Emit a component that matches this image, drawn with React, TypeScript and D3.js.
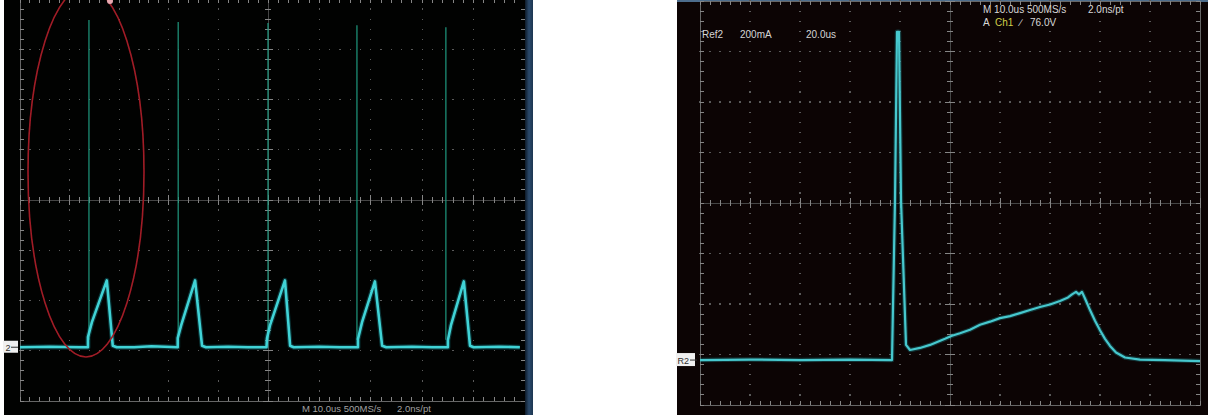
import React from "react";
import * as d3 from "d3";

// ---------- DATA (divisions; y relative to channel ground marker) ----------
// Left screen: current trace, 5 pulses
const leftTrace: [number, number][] = [
  [0, 0], [0.6, 0.01], [1.2, 0], [1.37, 0], [1.37, 0.2], [1.45, 0.5], [1.75, 1.33], [1.87, 0.03], [1.95, 0],
  [2.3, 0.0], [2.65, 0.02], [3.18, 0], [3.18, 0.18], [3.25, 0.44], [3.53, 1.33], [3.67, 0.03], [3.75, 0],
  [4.2, 0.01], [4.6, 0], [4.97, 0], [4.98, 0.18], [5.04, 0.44], [5.33, 1.33], [5.43, 0.03], [5.5, 0],
  [6.0, 0.01], [6.4, 0], [6.75, 0], [6.75, 0.16], [6.83, 0.5], [7.08, 1.31], [7.22, 0.03], [7.3, 0],
  [7.8, 0.01], [8.2, 0], [8.5, 0], [8.5, 0.14], [8.56, 0.44], [8.81, 1.31], [8.93, 0.03], [9.0, 0],
  [9.5, 0.01], [9.9, 0],
];
// Left screen: thin voltage spikes [time, top]
const leftSpikes: [number, number][] = [
  [1.39, 6.51], [3.19, 6.47], [5.0, 6.45], [6.73, 6.41], [8.46, 6.37],
];
// Right screen: single pulse, zoomed
const rightTrace: [number, number][] = [
  [0, 0], [1.0, 0.01], [2.0, 0], [3.0, 0.01], [3.84, 0], [3.9, 3.17], [3.94, 6.5], [3.98, 6.5],
  [4.02, 3.17], [4.12, 0.3], [4.2, 0.2], [4.4, 0.24], [4.6, 0.3], [4.9, 0.42], [5.04, 0.48],
  [5.2, 0.53], [5.4, 0.6], [5.6, 0.7], [5.8, 0.76], [6.0, 0.83], [6.2, 0.87], [6.4, 0.93],
  [6.6, 0.99], [6.8, 1.05], [7.0, 1.1], [7.2, 1.17], [7.36, 1.24], [7.44, 1.3], [7.52, 1.35],
  [7.58, 1.3], [7.64, 1.35], [7.7, 1.22], [7.8, 0.99], [7.9, 0.78], [8.0, 0.59], [8.1, 0.42],
  [8.2, 0.28], [8.32, 0.15], [8.5, 0.05], [8.8, 0.01], [9.3, 0.0], [10.0, -0.02],
];

const leftZeroDiv = 1.07; // ground marker height above bottom (div)
const rightZeroDiv = 0.89;

const leftFooter = "M 10.0us 500MS/s      2.0ns/pt";
const rightHeader1 = "M 10.0us 500MS/s";
const rightHeader2 = "2.0ns/pt";
const refLabels = ["Ref2", "200mA", "20.0us"];
const trigLabels = ["A", "Ch1", "\u2215", "76.0V"];

// ---------- GRATICULE ----------
function Graticule({ x, y }: { x: d3.ScaleLinear<number, number>; y: d3.ScaleLinear<number, number> }) {
  const dots: JSX.Element[] = [];
  const ticks: JSX.Element[] = [];
  const dotC = "#5a5a5a";
  const tickC = "#858585";
  for (let i = 1; i < 10; i++) {
    if (i === 5) continue;
    for (let k = 0; k <= 40; k++) {
      dots.push(<rect key={`v${i}-${k}`} x={x(i) - 0.6} y={y(k * 0.2) - 0.6} width={1.2} height={1.2} fill={dotC} />);
    }
  }
  for (let j = 1; j < 8; j++) {
    if (j === 4) continue;
    for (let k = 0; k <= 50; k++) {
      dots.push(<rect key={`h${j}-${k}`} x={x(k * 0.2) - 0.6} y={y(j) - 0.6} width={1.2} height={1.2} fill={dotC} />);
    }
  }
  for (let k = 0; k <= 40; k++) {
    const L = k % 5 === 0 ? 5 : 3;
    ticks.push(<line key={`cv${k}`} x1={x(5) - L} x2={x(5) + L} y1={y(k * 0.2)} y2={y(k * 0.2)} stroke={tickC} />);
    ticks.push(<line key={`bl${k}`} x1={x(0)} x2={x(0) + 4} y1={y(k * 0.2)} y2={y(k * 0.2)} stroke={tickC} />);
    ticks.push(<line key={`br${k}`} x1={x(10) - 4} x2={x(10)} y1={y(k * 0.2)} y2={y(k * 0.2)} stroke={tickC} />);
  }
  for (let k = 0; k <= 50; k++) {
    const L = k % 5 === 0 ? 5 : 3;
    ticks.push(<line key={`ch${k}`} y1={y(4) - L} y2={y(4) + L} x1={x(k * 0.2)} x2={x(k * 0.2)} stroke={tickC} />);
    ticks.push(<line key={`bt${k}`} y1={y(8)} y2={y(8) + 4} x1={x(k * 0.2)} x2={x(k * 0.2)} stroke={tickC} />);
    ticks.push(<line key={`bb${k}`} y1={y(0) - 4} y2={y(0)} x1={x(k * 0.2)} x2={x(k * 0.2)} stroke={tickC} />);
  }
  return (
    <g shapeRendering="crispEdges">
      {dots}
      <line x1={x(5)} x2={x(5)} y1={y(0)} y2={y(8)} stroke="#454545" />
      <line x1={x(0)} x2={x(10)} y1={y(4)} y2={y(4)} stroke="#454545" />
      <rect x={x(0)} y={y(8)} width={x(10) - x(0)} height={y(0) - y(8)} fill="none" stroke="#666" />
      {ticks}
    </g>
  );
}

export default function App() {
  const W = 1208, H = 415;

  const lx = d3.scaleLinear().domain([0, 5, 10]).range([20, 268, 525]);
  const lgy = d3.scaleLinear().domain([0, 8]).range([401, -1]);
  const ly = d3.scaleLinear().domain([-leftZeroDiv, 8 - leftZeroDiv]).range([401, -1]);

  const rx = d3.scaleLinear().domain([0, 10]).range([700, 1200]);
  const rgy = d3.scaleLinear().domain([0, 8]).range([405, 1]);
  const ry = d3.scaleLinear().domain([-rightZeroDiv, 8 - rightZeroDiv]).range([405, 1]);

  const lLine = d3.line<[number, number]>().x((d) => lx(d[0])).y((d) => ly(d[1]));
  const rLine = d3.line<[number, number]>().x((d) => rx(d[0])).y((d) => ry(d[1]));

  const font = "'Liberation Sans', Arial, sans-serif";

  return (
    <svg width={W} height={H} style={{ position: "absolute", left: 0, top: 0, background: "#fff" }}>
      <defs>
        <linearGradient id="blueEdge" x1="0" x2="1" y1="0" y2="0">
          <stop offset="0" stopColor="#0d1a28" />
          <stop offset="0.5" stopColor="#2b4a6c" />
          <stop offset="1" stopColor="#1c3550" />
        </linearGradient>
        <clipPath id="lclip"><rect x={4} y={0} width={521} height={415} /></clipPath>
        <clipPath id="rclip"><rect x={677} y={0} width={531} height={415} /></clipPath>
        <filter id="soft" x="-2%" y="-2%" width="104%" height="104%">
          <feGaussianBlur stdDeviation="0.45" />
        </filter>
      </defs>

      {/* ----- LEFT SCREEN ----- */}
      <rect x={4} y={0} width={521} height={415} fill="#010201" />
      <rect x={525} y={0} width={8} height={415} fill="url(#blueEdge)" />
      <g clipPath="url(#lclip)">
        <g filter="url(#soft)">
          <Graticule x={lx} y={lgy} />
          {leftSpikes.map((s, i) => (
            <line key={i} x1={lx(s[0])} x2={lx(s[0])} y1={ly(0.15)} y2={ly(s[1])} stroke="#1f9a80" strokeWidth={1.5} opacity={0.8} />
          ))}
          <path d={lLine(leftTrace) || ""} fill="none" stroke="#1b8d94" strokeWidth={5} opacity={0.35} strokeLinejoin="round" />
          <path d={lLine(leftTrace) || ""} fill="none" stroke="#41d3d6" strokeWidth={2.6} strokeLinejoin="round" />
          <ellipse cx={86} cy={172} rx={58} ry={185} fill="none" stroke="#a01c26" strokeWidth={1.6} />
          <circle cx={110} cy={1} r={3} fill="#e8a8b0" />
        </g>
      </g>
      <text x={302} y={412} fontFamily={font} fontSize={9.5} fill="#a0a0a0" xmlSpace="preserve">{leftFooter}</text>
      <rect x={3} y={ly(0) - 6.5} width={15} height={12} fill="#f0f0f0" />
      <text x={5.5} y={ly(0) + 3.5} fontFamily={font} fontSize={9} fill="#303030">2</text>
      <path d={`M11,${ly(0)} L18,${ly(0)}`} stroke="#303030" strokeWidth={1} />

      {/* ----- RIGHT SCREEN ----- */}
      <rect x={677} y={0} width={531} height={415} fill="#0c0404" />
      <rect x={677} y={0} width={531} height={2} fill="#4d6d8c" />
      <g clipPath="url(#rclip)">
        <g filter="url(#soft)">
          <Graticule x={rx} y={rgy} />
          <path d={rLine(rightTrace) || ""} fill="none" stroke="#1c8a90" strokeWidth={4.5} opacity={0.35} strokeLinejoin="round" />
          <path d={rLine(rightTrace) || ""} fill="none" stroke="#46c8ce" strokeWidth={2.2} strokeLinejoin="round" />
        </g>
      </g>
      <text x={702} y={38} fontFamily={font} fontSize={10} fill="#d4d4d4">{refLabels[0]}</text>
      <text x={740} y={38} fontFamily={font} fontSize={10} fill="#d4d4d4">{refLabels[1]}</text>
      <text x={806} y={38} fontFamily={font} fontSize={10} fill="#d4d4d4">{refLabels[2]}</text>
      <text x={983} y={13} fontFamily={font} fontSize={10} fill="#d8d8d8">{rightHeader1}</text>
      <text x={1088} y={13} fontFamily={font} fontSize={10} fill="#d8d8d8">{rightHeader2}</text>
      <text x={983} y={26} fontFamily={font} fontSize={10} fill="#d8d8d8">{trigLabels[0]}</text>
      <text x={995} y={26} fontFamily={font} fontSize={10} fill="#d2d04a">{trigLabels[1]}</text>
      <text x={1020} y={26} fontFamily={font} fontSize={10} fill="#d8d8d8">{trigLabels[2]}</text>
      <text x={1030} y={26} fontFamily={font} fontSize={10} fill="#d8d8d8">{trigLabels[3]}</text>
      <rect x={676} y={ry(0) - 7} width={19} height={13} fill="#f0f0f0" />
      <text x={677.5} y={ry(0) + 3.5} fontFamily={font} fontSize={9} fill="#303030">R2</text>
      <path d={`M690,${ry(0)} L697,${ry(0)}`} stroke="#303030" strokeWidth={1} />
    </svg>
  );
}
